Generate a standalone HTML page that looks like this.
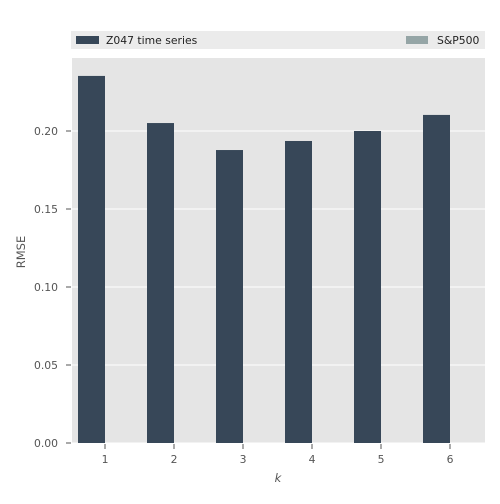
<!DOCTYPE html>
<html><head><meta charset="utf-8"><style>
body{margin:0;background:#fff;font-family:"DejaVu Sans","Liberation Sans",sans-serif;}
svg text{font-family:"DejaVu Sans","Liberation Sans",sans-serif;}
</style></head><body>
<svg id="chart" width="500" height="500" xmlns="http://www.w3.org/2000/svg">
<rect x="71" y="31" width="414" height="18" fill="#ebebeb"/>
<rect x="76" y="36" width="23" height="8" fill="#374758"/>
<text x="106" y="44" font-size="10.8" fill="#222">Z047 time series</text>
<rect x="406" y="36" width="22" height="8" fill="#95a5a6"/>
<text x="437" y="44" font-size="10.8" fill="#222">S&amp;P500</text>
<rect x="72" y="58" width="413" height="385" fill="#e5e5e5"/>
<g id="grid"></g><g id="bars"></g><g id="axes"></g>
<text x="278" y="482" font-size="11.5" fill="#555" font-style="italic" text-anchor="middle">k</text>
<text x="25" y="252" font-size="11.5" fill="#555" text-anchor="middle" transform="rotate(-90 25 252)">RMSE</text>
</svg>
<script>
const categories=[1,2,3,4,5,6];
const z047Values=[0.2353,0.2051,0.1878,0.1936,0.2000,0.2103];
const sp500Values=[0,0,0,0,0,0];
const yTicks=[0,0.05,0.10,0.15,0.20];
const yTickLabels=["0.00","0.05","0.10","0.15","0.20"];
const NS="http://www.w3.org/2000/svg";
function y(v){return 443-v*1560;}
function x(i){return 105+i*69;}
function mk(t,a,p){const e=document.createElementNS(NS,t);for(const k in a)e.setAttribute(k,a[k]);p.appendChild(e);return e;}
const grid=document.getElementById('grid'),bars=document.getElementById('bars'),axes=document.getElementById('axes');
yTicks.forEach((v,i)=>{
 const g=mk('line',{x1:72,x2:485,y1:y(v),y2:y(v),stroke:'#fff','stroke-width':1},grid);
 
 
 const t=mk('line',{x1:66,x2:71,y1:y(v),y2:y(v),stroke:'#555'},axes);
 
 
 const l=mk('text',{x:58,y:y(v)+4,'font-size':10.8,fill:'#555','text-anchor':'end'},axes);
 l.textContent=yTickLabels[i];
 
 
});
categories.forEach((c,i)=>{
 const b=mk('rect',{x:x(i)-27,y:y(z047Values[i]),width:27,height:443-y(z047Values[i]),fill:'#374758'},bars);
 
 
 const s=mk('rect',{x:x(i),y:y(sp500Values[i]),width:27,height:443-y(sp500Values[i]),fill:'#95a5a6'},bars);
 
 
 const t=mk('line',{x1:x(i),x2:x(i),y1:444,y2:449,stroke:'#555'},axes);
 
 
 const l=mk('text',{x:x(i),y:463,'font-size':10.8,fill:'#555','text-anchor':'middle'},axes);
 l.textContent=c;
 
 
});
</script>
</body></html>
